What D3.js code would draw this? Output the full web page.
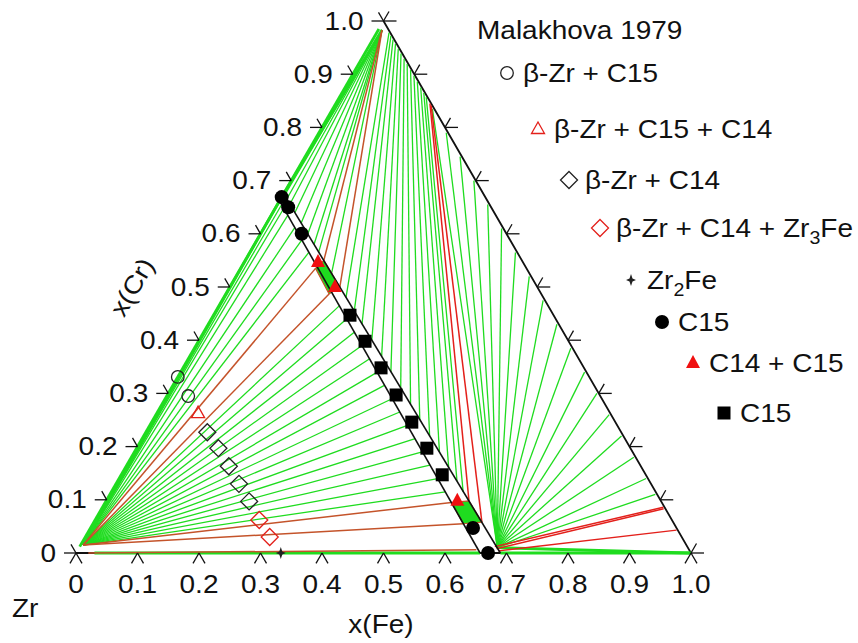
<!DOCTYPE html>
<html><head><meta charset="utf-8">
<script src="https://cdn.jsdelivr.net/npm/d3@7"></script>
<style>body{margin:0;background:#fff}svg{display:block;font-family:"Liberation Sans",Arial,Helvetica,sans-serif}</style>
</head><body>
<script>
// ---------------- data ----------------
const tickValues = [0, 0.1, 0.2, 0.3, 0.4, 0.5, 0.6, 0.7, 0.8, 0.9, 1.0];
const tickLabels = ["0", "0.1", "0.2", "0.3", "0.4", "0.5", "0.6", "0.7", "0.8", "0.9", "1.0"];

// compositions are [x(Fe), x(Cr)]
const betaZr = [0.004, 0.015];
const bccCr = [0.006, 0.983];
const c15FeRich = [0.68, 0.01];

const lavesZrSide = [[0.0, 0.662], [0.657, 0.0]];
const lavesFeCrSide = [[0.0, 0.675], [0.69, 0.0]];

// beta-Zr + Laves tie lines (Laves ends)
const zrFanEnds = [[0.0, 0.662], [0.007, 0.655], [0.014, 0.648], [0.027, 0.635], [0.050, 0.612], [0.073, 0.588], [0.096, 0.565],
  [0.196, 0.465], [0.220, 0.44], [0.245, 0.415], [0.270, 0.39], [0.295, 0.365], [0.320, 0.34], [0.344, 0.315], [0.369, 0.29],
  [0.394, 0.265], [0.419, 0.24], [0.444, 0.215], [0.468, 0.19], [0.493, 0.165], [0.518, 0.14], [0.543, 0.115]];
// Cr-rich bcc + Laves tie lines (Laves ends)
const crFanEnds = [[0.0, 0.675], [0.003, 0.672], [0.010, 0.665], [0.020, 0.655], [0.036, 0.64], [0.056, 0.62], [0.077, 0.60],
  [0.097, 0.58], [0.112, 0.565], [0.153, 0.525]];
// bcc (Fe,Cr) + C15 tie lines
const bccTieLavesEnds = [[0.199, 0.48], [0.225, 0.455], [0.250, 0.43], [0.281, 0.40], [0.312, 0.37], [0.342, 0.34], [0.373, 0.31],
  [0.404, 0.28], [0.434, 0.25], [0.465, 0.22], [0.496, 0.19], [0.526, 0.16], [0.552, 0.135], [0.572, 0.115]];
const bccTieBccEnds = [[0.020, 0.978], [0.026, 0.972], [0.033, 0.965], [0.041, 0.957], [0.050, 0.948], [0.059, 0.939], [0.069, 0.929],
  [0.079, 0.919], [0.090, 0.908], [0.101, 0.897], [0.112, 0.886], [0.123, 0.875], [0.133, 0.865], [0.141, 0.857]];
// Fe-rich C15 + bcc tie lines (bcc ends)
const feFanEnds = [[0.162, 0.835], [0.207, 0.79], [0.252, 0.745], [0.297, 0.70], [0.342, 0.655], [0.387, 0.61], [0.432, 0.565],
  [0.477, 0.52], [0.522, 0.475], [0.567, 0.43], [0.612, 0.385], [0.657, 0.34], [0.697, 0.30], [0.737, 0.26], [0.777, 0.22],
  [0.817, 0.18], [0.857, 0.14], [0.887, 0.11]];
// binary-edge tie lines
const edgeTies = [[[0.03, 0.0], [0.657, 0.0]], [[0.69, 0.0], [1.0, 0.0]], [[0.68, 0.01], [0.997, 0.0]],
  [[0.0, 0.012], [0.0, 0.985]], [betaZr, [0.0, 0.662]], [bccCr, [0.0, 0.675]]];
// three-phase triangle edges
const brownTies = [[betaZr, [0.122, 0.535]], [betaZr, [0.168, 0.487]], [bccCr, [0.128, 0.55]], [bccCr, [0.179, 0.50]],
  [betaZr, [0.563, 0.095]], [betaZr, [0.602, 0.055]], [[0.02, 0.0], [0.648, 0.006]]];
const redTies = [[[0.590, 0.098], [0.153, 0.845]], [[0.631, 0.058], [0.157, 0.841]], [[0.675, 0.012], [0.912, 0.086]],
  [[0.68, 0.008], [0.914, 0.083]], [[0.685, 0.004], [0.955, 0.043]]];
// C14 single-phase regions
const c14Upper = [[0.122, 0.535], [0.168, 0.487], [0.179, 0.50], [0.128, 0.55]];
const c14Lower = [[0.563, 0.095], [0.602, 0.055], [0.631, 0.058], [0.590, 0.098]];

// experimental points (Malakhova 1979)
const betaZrC15 = [[0.0, 0.331], [0.035, 0.295]];
const betaZrC15C14 = [[0.067, 0.263]];
const betaZrC14 = [[0.1, 0.227], [0.133, 0.197], [0.167, 0.163], [0.2, 0.13], [0.233, 0.097]];
const betaZrC14Zr3Fe = [[0.267, 0.062], [0.3, 0.03]];
const zr2Fe = [[0.333, 0.0]];
const c15Circles = [[0.0, 0.669], [0.02, 0.65], [0.067, 0.60], [0.622, 0.047], [0.67, 0.0]];
const c14c15 = [[0.12, 0.547], [0.171, 0.50], [0.571, 0.098]];
const c15Squares = [[0.222, 0.447], [0.271, 0.398], [0.322, 0.348], [0.372, 0.297], [0.423, 0.246], [0.472, 0.197], [0.522, 0.147]];

const legendTitle = "Malakhova 1979";
const legendLabels = ["β-Zr + C15", "β-Zr + C15 + C14", "β-Zr + C14", "β-Zr + C14 + Zr_3Fe", "Zr_2Fe", "C15", "C14 + C15", "C15"];
const legendSymbols = ["openCircle", "openTriRed", "openDiamond", "openDiamondRed", "star", "filledCircle", "filledTriRed", "filledSquare"];
const axisTitles = {fe: "x(Fe)", cr: "x(Cr)", corner: "Zr"};

// ---------------- drawing ----------------
const W = 858, H = 643;
const sx = d3.scaleLinear().domain([0, 1]).range([76, 691]);
const sy = d3.scaleLinear().domain([0, 1]).range([553, 21]);
const P = d => [sx(d[0] + d[1] / 2), sy(d[1])];
const line = d3.line().x(d => P(d)[0]).y(d => P(d)[1]);

const GREEN = "#1fdc1f", BROWN = "#c4532a", RED = "#e3201b", BLACK = "#111";
const SX = 1.12, FS = 25;

const svg = d3.select("body").append("svg").attr("width", W).attr("height", H);

// triangle outline (Zr-Cr edge is covered by the green edge tie lines)
svg.append("path").attr("d", line([[0, 0], [1, 0], [0, 1]]))
  .attr("fill", "none").attr("stroke", BLACK).attr("stroke-width", 1.8);

const gl = svg.append("g").attr("fill", "none");
function seg(a, b, color, w) {
  gl.append("path").attr("d", line([a, b])).attr("stroke", color).attr("stroke-width", w);
}
zrFanEnds.forEach(e => seg(betaZr, e, GREEN, 1.3));
crFanEnds.forEach(e => seg(bccCr, e, GREEN, 1.3));
bccTieLavesEnds.forEach((e, i) => seg(e, bccTieBccEnds[i], GREEN, 1.3));
feFanEnds.forEach(e => seg(c15FeRich, e, GREEN, 1.3));
edgeTies.forEach(t => seg(t[0], t[1], GREEN, 2.8));
brownTies.forEach(t => seg(t[0], t[1], BROWN, 1.5));
redTies.forEach(t => seg(t[0], t[1], RED, 1.5));

[c14Upper, c14Lower].forEach(poly => {
  gl.append("path").attr("d", line(poly) + "Z").attr("fill", GREEN).attr("stroke", BROWN).attr("stroke-width", 1.2);
});

// Laves band boundaries
[lavesZrSide, lavesFeCrSide].forEach(l => {
  gl.append("path").attr("d", line(l)).attr("stroke", BLACK).attr("stroke-width", 1.6);
});

// markers
function sym(g, type, x, y) {
  switch (type) {
    case "openCircle":
      g.append("circle").attr("cx", x).attr("cy", y).attr("r", 6.3).attr("fill", "none").attr("stroke", "#222").attr("stroke-width", 1.3); break;
    case "filledCircle":
      g.append("circle").attr("cx", x).attr("cy", y).attr("r", 7).attr("fill", "#000"); break;
    case "openTriRed":
      g.append("path").attr("d", `M${x},${y - 7}L${x + 6.5},${y + 4.5}L${x - 6.5},${y + 4.5}Z`).attr("fill", "none").attr("stroke", RED).attr("stroke-width", 1.3); break;
    case "filledTriRed":
      g.append("path").attr("d", `M${x},${y - 8}L${x + 7},${y + 5}L${x - 7},${y + 5}Z`).attr("fill", "#f01010"); break;
    case "openDiamond":
    case "openDiamondRed":
      g.append("path").attr("d", `M${x},${y - 8.5}L${x + 8.5},${y}L${x},${y + 8.5}L${x - 8.5},${y}Z`).attr("fill", "none")
        .attr("stroke", type === "openDiamond" ? "#222" : RED).attr("stroke-width", 1.3); break;
    case "star":
      g.append("path").attr("d", `M${x},${y - 6}L${x + 1.5},${y - 1.5}L${x + 5},${y}L${x + 1.5},${y + 1.5}L${x},${y + 6}L${x - 1.5},${y + 1.5}L${x - 5},${y}L${x - 1.5},${y - 1.5}Z`).attr("fill", "#222"); break;
    case "filledSquare":
      g.append("rect").attr("x", x - 6.5).attr("y", y - 6.5).attr("width", 13).attr("height", 13).attr("fill", "#000"); break;
  }
}
const gm = svg.append("g");
[[betaZrC15, "openCircle"], [betaZrC15C14, "openTriRed"], [betaZrC14, "openDiamond"], [betaZrC14Zr3Fe, "openDiamondRed"],
 [zr2Fe, "star"], [c15Circles, "filledCircle"], [c14c15, "filledTriRed"], [c15Squares, "filledSquare"]]
  .forEach(([arr, type]) => arr.forEach(d => { const p = P(d); sym(gm, type, p[0], p[1]); }));

// ticks
const gt = svg.append("g").attr("stroke", BLACK).attr("stroke-width", 1.3).attr("fill", "none");
const c60 = 0.5, s60 = Math.sqrt(3) / 2;
function tk(p, dx, dy, len) {
  gt.append("line").attr("x1", p[0]).attr("y1", p[1]).attr("x2", p[0] + dx * len).attr("y2", p[1] + dy * len);
}
tickValues.forEach(v => {
  const b = P([v, 0]), l = P([0, v]), r = P([1 - v, v]);
  tk(b, -c60, s60, 12); tk(b, c60, s60, 12);
  tk(l, -1, 0, 12); tk(l, -c60, -s60, 10);
  tk(r, 1, 0, 13); tk(r, c60, -s60, 11);
});

// text helper with subscripts
function txt(parent, x, y, str, anchor, size, rot) {
  size = size || FS;
  const t = parent.append("text")
    .attr("transform", `translate(${x},${y})` + (rot ? ` rotate(${rot})` : "") + ` scale(${SX},1)`)
    .attr("text-anchor", anchor || "start").attr("font-size", size).attr("fill", "#111");
  let pending = 0;
  str.split(/(_\d)/).forEach(p => {
    if (!p) return;
    if (p[0] === "_") {
      t.append("tspan").attr("font-size", size * 0.7).attr("dy", 7).text(p.slice(1));
      pending = -7;
    } else {
      const ts = t.append("tspan").text(p);
      if (pending) { ts.attr("dy", pending); pending = 0; }
    }
  });
  return t;
}
const gx = svg.append("g");
tickValues.forEach((v, i) => {
  const b = P([v, 0]), l = P([0, v]);
  txt(gx, b[0], 593, tickLabels[i], "middle");
  txt(gx, l[0] - 20, l[1] + 8.5, tickLabels[i], "end");
});
txt(gx, 381, 633, axisTitles.fe, "middle");
txt(gx, 12, 617, axisTitles.corner, "start");
txt(gx, 132, 287, axisTitles.cr, "middle", FS, -60).attr("dy", "0.35em");

// legend
const gLeg = svg.append("g");
txt(gLeg, 477, 39, legendTitle, "start");
const legY = [73, 129, 180, 228, 280, 322, 363, 413];
legendLabels.forEach((lab, i) => {
  const mx = 507 + 31 * i, my = legY[i];
  sym(gLeg, legendSymbols[i], mx, my);
  txt(gLeg, mx + 16, my + 9, lab, "start");
});
</script></body></html>
